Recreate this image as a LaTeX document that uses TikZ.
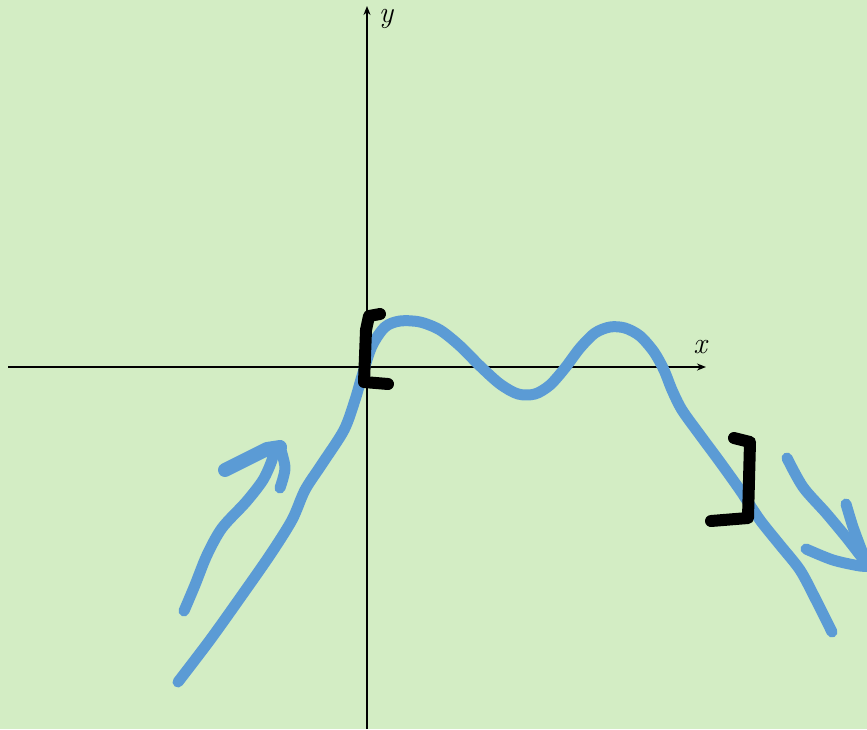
\documentclass[tikz,border=0pt]{standalone}
\usetikzlibrary{arrows.meta}
\definecolor{bg}{HTML}{D3EDC4}
\definecolor{pen}{HTML}{5B9BD5}
\begin{document}
\begin{tikzpicture}[x=1pt,y=-1pt,
  axis/.style={line width=1.8pt,-{Stealth[length=9pt,width=7pt]}},
  bluepen/.style={pen,line width=11pt,line cap=round,line join=round},
  blackpen/.style={black,line width=12pt,line cap=round,line join=round},
  lbl/.style={font=\fontsize{30}{36}\selectfont\itshape,inner sep=0pt}]
\fill[bg] (0,0) rectangle (867,729);
\useasboundingbox (0,0) rectangle (867,729);
% axes
\draw[axis] (8,367) -- (706,367);
\draw[axis] (367,729) -- (367,6);
\node[lbl] (ylab) at (386,19) {y};
\node[lbl] (xlab) at (700,347) {x};
% curve
\draw[bluepen] plot[smooth,tension=0.5] coordinates {
 (178,682) (210,640) (240,598) (270,555) (292,520) (305,490) (322,464)
 (344,430) (355,400) (362,376) (372,346) (385,327) (400,321) (420,322)
 (440,330) (460,346) (480,366) (500,384) (518,394) (535,394) (550,385)
 (565,368) (580,348) (595,333) (610,327) (625,328) (640,336) (654,352)
 (664,370) (672,390) (682,410) (700,435) (720,462) (740,490) (760,520)
 (780,545) (800,570) (815,598) (832,632)};
% left arrow
\draw[bluepen] plot[smooth,tension=0.5] coordinates {
 (184,611) (195,585) (207,555) (222,528) (246,502) (263,480) (272,460) (273,450)};
\draw[bluepen,line width=14pt] (225,470) -- (267,449) -- (280,447);
\draw[bluepen] plot[smooth,tension=0.5] coordinates {(280,447) (285,468) (280,488)};
% right arrow
\draw[bluepen] plot[smooth,tension=0.5] coordinates {
 (787,458) (803,487) (826,513) (846,537) (860,555) (868,565)};
\draw[bluepen] plot[smooth,tension=0.5] coordinates {(846,504) (853,527) (863,554)};
\draw[bluepen] plot[smooth,tension=0.5] coordinates {(806,549) (833,560) (860,566) (870,566)};
% brackets
\draw[blackpen] (380,314) -- (369,316) -- (366,330) -- (364,382) -- (388,384);
\draw[blackpen] (734,438) -- (750,442) -- (748,518) -- (711,521);
\end{tikzpicture}
\end{document}
